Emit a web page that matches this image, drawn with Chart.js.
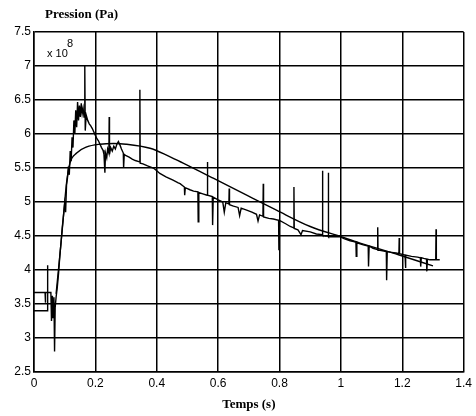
<!DOCTYPE html>
<html>
<head>
<meta charset="utf-8">
<script src="https://cdn.jsdelivr.net/npm/chart.js@4/dist/chart.umd.min.js"></script>
<style>
  html, body { margin: 0; padding: 0; background: #fff; }
  #wrap { width: 476px; height: 416px; position: relative; }
</style>
</head>
<body>
<div id="wrap"><canvas id="pressureChart" width="476" height="416"></canvas></div>
<script>
// measured pressure (noisy trace)
const noisyTime = [
  0, 0.044, 0.044, 0.045, 0, 0.036, 0.037, 0.038, 0.055, 0.057, 0.060, 0.062, 0.065, 0.067, 0.069,
  0.072, 0.076, 0.080, 0.084, 0.088, 0.092, 0.096, 0.100, 0.103, 0.106, 0.109, 0.112, 0.115, 0.118,
  0.121, 0.124, 0.127, 0.130, 0.133, 0.136, 0.139, 0.142, 0.145, 0.148, 0.151, 0.154, 0.157, 0.160,
  0.163, 0.165, 0.166, 0.167, 0.170, 0.175, 0.180, 0.185, 0.190, 0.195, 0.200, 0.205, 0.210, 0.215,
  0.220, 0.225, 0.228, 0.231, 0.233, 0.237, 0.240, 0.244, 0.245, 0.246, 0.250, 0.255, 0.260, 0.265,
  0.270, 0.275, 0.280, 0.285, 0.291, 0.292, 0.294, 0.300, 0.310, 0.320, 0.330, 0.344, 0.345, 0.346,
  0.355, 0.370, 0.389, 0.400, 0.410, 0.430, 0.453, 0.470, 0.476, 0.490, 0.491, 0.493, 0.508, 0.520, 0.534,
  0.535, 0.537, 0.550, 0.564, 0.565, 0.566, 0.581, 0.582, 0.584, 0.600, 0.615, 0.620, 0.625, 0.635,
  0.636, 0.637, 0.650, 0.665, 0.670, 0.675, 0.693, 0.710, 0.725, 0.730, 0.735, 0.746, 0.747, 0.748,
  0.765, 0.780, 0.797, 0.798, 0.800, 0.820, 0.835, 0.846, 0.847, 0.848, 0.860, 0.870, 0.875, 0.900,
  0.920, 0.939, 0.940, 0.941, 0.950, 0.958, 0.959, 0.960, 0.980, 0.997, 1.010, 1.030, 1.049, 1.050,
  1.052, 1.060, 1.073, 1.089, 1.090, 1.092, 1.105, 1.119, 1.120, 1.121, 1.127, 1.140, 1.148, 1.149,
  1.151, 1.165, 1.180, 1.189, 1.190, 1.191, 1.209, 1.210, 1.212, 1.230, 1.250, 1.259, 1.260, 1.262,
  1.270, 1.279, 1.280, 1.282, 1.290, 1.309, 1.310, 1.311, 1.322
];
const noisyPressure = [
  3.40, 3.40, 4.07, 3.67, 3.67, 3.67, 3.52, 3.67, 3.67, 3.25, 3.62, 3.30, 3.60, 2.80, 3.45,
  3.60, 3.75, 3.95, 4.20, 4.40, 4.62, 4.80, 4.98, 4.85, 5.25, 5.35, 5.52, 5.40, 5.75,
  5.60, 5.95, 5.80, 6.20, 6.00, 6.35, 6.10, 6.47, 6.20, 6.42, 6.25, 6.45, 6.30, 6.38,
  6.25, 6.30, 7.00, 6.05, 6.28, 6.20, 6.15, 6.12, 6.08, 6.03, 5.98, 5.93, 5.90, 5.85,
  5.80, 5.76, 5.70, 5.43, 5.72, 5.65, 5.78, 5.72, 6.25, 5.70, 5.80, 5.75, 5.82, 5.78,
  5.85, 5.89, 5.84, 5.78, 5.72, 5.50, 5.70, 5.68, 5.66, 5.63, 5.61, 5.59, 6.65, 5.57,
  5.56, 5.53, 5.50, 5.46, 5.42, 5.37, 5.32, 5.28, 5.27, 5.22, 5.10, 5.21, 5.18, 5.16, 5.15,
  4.71, 5.14, 5.12, 5.10, 5.59, 5.10, 5.08, 4.66, 5.07, 5.03, 5.00, 4.85, 4.99, 4.97,
  5.20, 4.96, 4.94, 4.92, 4.80, 4.91, 4.88, 4.85, 4.82, 4.72, 4.81, 4.79, 5.27, 4.78,
  4.76, 4.75, 4.73, 4.29, 4.73, 4.68, 4.64, 4.62, 5.22, 4.61, 4.59, 4.52, 4.58, 4.56,
  4.53, 4.52, 5.46, 4.51, 4.50, 4.50, 5.43, 4.49, 4.49, 4.49, 4.46, 4.43, 4.41, 4.20,
  4.40, 4.39, 4.37, 4.35, 4.05, 4.35, 4.32, 4.30, 4.63, 4.29, 4.29, 4.28, 4.27, 3.85,
  4.27, 4.26, 4.25, 4.24, 4.47, 4.24, 4.22, 4.03, 4.22, 4.20, 4.19, 4.18, 4.05, 4.18,
  4.17, 4.16, 3.98, 4.16, 4.15, 4.15, 4.60, 4.15, 4.15
];

// model curve (smooth)
const fitTime = [0.072, 0.085, 0.095, 0.106, 0.117, 0.139, 0.172, 0.215, 0.260, 0.300, 0.378, 0.432,
  0.486, 0.540, 0.584, 0.693, 0.790, 0.900, 1.000, 1.060, 1.190, 1.300];
const fitPressure = [3.65, 4.25, 4.74, 5.28, 5.57, 5.72, 5.81, 5.85, 5.86, 5.85, 5.79, 5.69,
  5.57, 5.45, 5.35, 5.10, 4.88, 4.64, 4.49, 4.40, 4.22, 4.06];

const xTicks = [0, 0.2, 0.4, 0.6, 0.8, 1, 1.2, 1.4];
const yTicks = [2.5, 3, 3.5, 4, 4.5, 5, 5.5, 6, 6.5, 7, 7.5];

const tickFont = { family: "'Liberation Sans', Arial, sans-serif", size: 12 };
const serifBold = "'Liberation Serif', 'Times New Roman', serif";

// labels drawn on top of the canvas: y title and exponent
const labelPlugin = {
  id: 'labels',
  afterDraw(chart) {
    const ctx = chart.ctx;
    ctx.save();
    ctx.fillStyle = '#000';
    ctx.textBaseline = 'alphabetic';
    ctx.textAlign = 'left';
    ctx.font = "bold 13px " + serifBold;
    ctx.fillText('Pression (Pa)', 45, 18);
    ctx.font = "11px " + tickFont.family;
    ctx.fillText('x 10', 47, 57);
    ctx.fillText('8', 67, 47);
    ctx.restore();
  }
};

function makeXY(xs, ys) {
  return xs.map((x, i) => ({ x: x, y: ys[i] }));
}

new Chart(document.getElementById('pressureChart').getContext('2d'), {
  type: 'line',
  data: {
    datasets: [{
      label: 'mesure',
      data: makeXY(noisyTime, noisyPressure),
      borderColor: '#000',
      borderWidth: 1.4,
      pointRadius: 0,
      tension: 0
    }, {
      label: 'modele',
      data: makeXY(fitTime, fitPressure),
      borderColor: '#000',
      borderWidth: 1.4,
      pointRadius: 0,
      cubicInterpolationMode: 'monotone'
    }]
  },
  options: {
    responsive: false,
    animation: false,
    devicePixelRatio: 1,
    layout: { padding: { left: 0, right: 12, top: 32, bottom: 0 } },
    plugins: { legend: { display: false }, tooltip: { enabled: false } },
    scales: {
      x: {
        type: 'linear',
        min: 0, max: 1.4,
        afterBuildTicks: s => { s.ticks = xTicks.map(v => ({ value: v })); },
        afterFit: s => { s.height = 44; },
        grid: { color: '#000', lineWidth: 1.5, drawTicks: false },
        border: { color: '#000', width: 1.5 },
        ticks: {
          font: tickFont, color: '#000', padding: 4, maxRotation: 0,
          callback: v => String(Number(v.toFixed(1)))
        },
        title: {
          display: true, text: 'Temps (s)', color: '#000',
          font: { family: serifBold, weight: 'bold', size: 13 },
          padding: { top: 0, bottom: 4 }
        }
      },
      y: {
        min: 2.5, max: 7.5,
        afterBuildTicks: s => { s.ticks = yTicks.map(v => ({ value: v })); },
        afterFit: s => { s.width = 34; },
        grid: { color: '#000', lineWidth: 1.6, drawTicks: false },
        border: { color: '#000', width: 1.5 },
        ticks: {
          font: tickFont, color: '#000', padding: 3,
          callback: v => String(Number(v.toFixed(1)))
        }
      }
    }
  },
  plugins: [labelPlugin]
});
</script>
</body>
</html>
